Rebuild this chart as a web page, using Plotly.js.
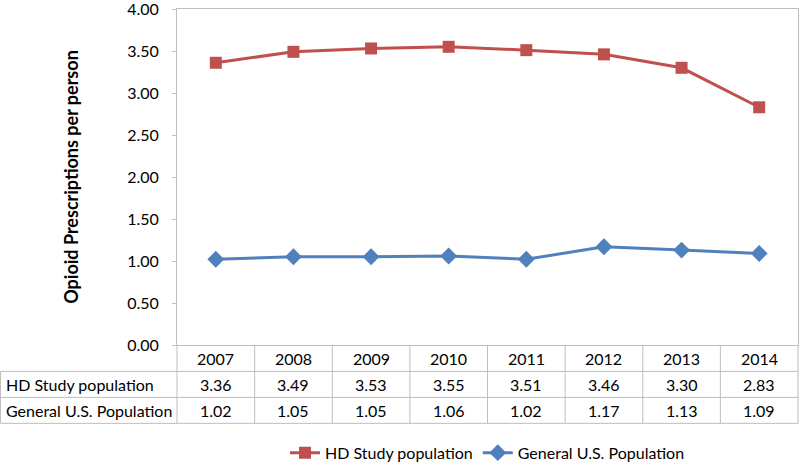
<!DOCTYPE html>
<html>
<head>
<meta charset="utf-8">
<script src="https://cdn.plot.ly/plotly-3.0.1.min.js"></script>
<style>html,body{margin:0;padding:0;background:#fff;}#chart{width:800px;height:472px;}</style>
</head>
<body>
<div id="chart"></div>
<script>
const years = ['2007','2008','2009','2010','2011','2012','2013','2014'];
const hdStudy = [3.36, 3.49, 3.53, 3.55, 3.51, 3.46, 3.30, 2.83];
const generalUS = [1.02, 1.05, 1.05, 1.06, 1.02, 1.17, 1.13, 1.09];
const seriesNames = ['HD Study population', 'General U.S. Population'];
const yTitle = 'Opioid Prescriptions per person';

const W = 800, H = 472;
const mL = 177, mR = 2, mT = 9, mB = 120;
const plotW = W - mL - mR, plotH = H - mT - mB;
const bottomPx = H - mB;
const py = p => (bottomPx - p) / plotH;      // pixel y -> paper y
const px = p => (p - mL) / plotW;            // pixel x -> paper x

const FONT = 'Lato, "Open Sans", sans-serif';
const FS = 16;
const lineCol = '#BFBFBF';
const xs = years.map((_, i) => i);

const traces = [
  {x: xs, y: hdStudy, name: seriesNames[0], type: 'scatter', mode: 'lines+markers',
   line: {color: '#C0504D', width: 3}, marker: {symbol: 'square', size: 12, color: '#C0504D'}},
  {x: xs, y: generalUS, name: seriesNames[1], type: 'scatter', mode: 'lines+markers',
   line: {color: '#4F81BD', width: 3}, marker: {symbol: 'diamond', size: 13, color: '#4F81BD'}}
];

const rows = [379, 405.5, 432];
const rowCenters = [365.5, 392, 418.5];
const shapes = [];
rows.forEach(r => shapes.push({type: 'line', xref: 'paper', yref: 'paper', x0: px(0.5), x1: 1, y0: py(r), y1: py(r), line: {color: lineCol, width: 1}}));
shapes.push({type: 'line', xref: 'paper', yref: 'paper', x0: px(0.5), x1: px(0.5), y0: py(rows[0]), y1: py(rows[2]), line: {color: lineCol, width: 1}});
shapes.push({type: 'line', xref: 'paper', yref: 'paper', x0: 0, x1: 0, y0: 0, y1: py(rows[2]), line: {color: lineCol, width: 1}});
shapes.push({type: 'line', xref: 'paper', yref: 'paper', x0: 1, x1: 1, y0: 0, y1: py(rows[2]), line: {color: lineCol, width: 1}});
for (let i = 0; i < years.length - 1; i++) {
  shapes.push({type: 'line', xref: 'x', yref: 'paper', x0: i + 0.5, x1: i + 0.5, y0: 0, y1: py(rows[2]), line: {color: lineCol, width: 1}});
}

const annotations = [];
const txt = {family: FONT, size: FS, color: '#000'};
years.forEach((yr, i) => {
  annotations.push({x: i, xref: 'x', y: py(rowCenters[0]), yref: 'paper', text: yr, showarrow: false, font: txt, xanchor: 'center', yanchor: 'middle'});
  annotations.push({x: i, xref: 'x', y: py(rowCenters[1]), yref: 'paper', text: hdStudy[i].toFixed(2), showarrow: false, font: txt, xanchor: 'center', yanchor: 'middle'});
  annotations.push({x: i, xref: 'x', y: py(rowCenters[2]), yref: 'paper', text: generalUS[i].toFixed(2), showarrow: false, font: txt, xanchor: 'center', yanchor: 'middle'});
});
annotations.push({x: px(4), xref: 'paper', y: py(rowCenters[1]), yref: 'paper', text: seriesNames[0], showarrow: false, font: txt, xanchor: 'left', yanchor: 'middle'});
annotations.push({x: px(4), xref: 'paper', y: py(rowCenters[2]), yref: 'paper', text: seriesNames[1], showarrow: false, font: txt, xanchor: 'left', yanchor: 'middle'});

const layout = {
  width: W, height: H,
  margin: {l: mL, r: mR, t: mT, b: mB, pad: 0},
  paper_bgcolor: '#fff', plot_bgcolor: '#fff',
  font: {family: FONT, size: FS, color: '#000'},
  xaxis: {range: [-0.5, years.length - 0.5], showgrid: false, zeroline: false, showticklabels: false,
          showline: true, mirror: true, linecolor: lineCol, linewidth: 1, ticks: '', fixedrange: true},
  yaxis: {range: [0, 4], dtick: 0.5, tick0: 0, tickformat: '.2f', showgrid: false, zeroline: false,
          showline: true, mirror: true, linecolor: lineCol, linewidth: 1, ticks: 'outside', ticklen: 4, tickcolor: lineCol,
          ticklabelstandoff: 10, ticklabeloverflow: 'allow',
          tickfont: {family: FONT, size: FS, color: '#000'},
          title: {text: yTitle, font: {family: FONT, size: 18, color: '#000', weight: 'bold'}, standoff: 43}},
  showlegend: true,
  legend: {orientation: 'h', x: 0.5, xanchor: 'center', y: py(462), yanchor: 'middle',
           font: {family: FONT, size: FS, color: '#000'}, bgcolor: 'rgba(0,0,0,0)', tracegroupgap: 0},
  shapes: shapes,
  annotations: annotations
};

Plotly.newPlot('chart', traces, layout, {displayModeBar: false, staticPlot: true});
</script>
</body>
</html>
